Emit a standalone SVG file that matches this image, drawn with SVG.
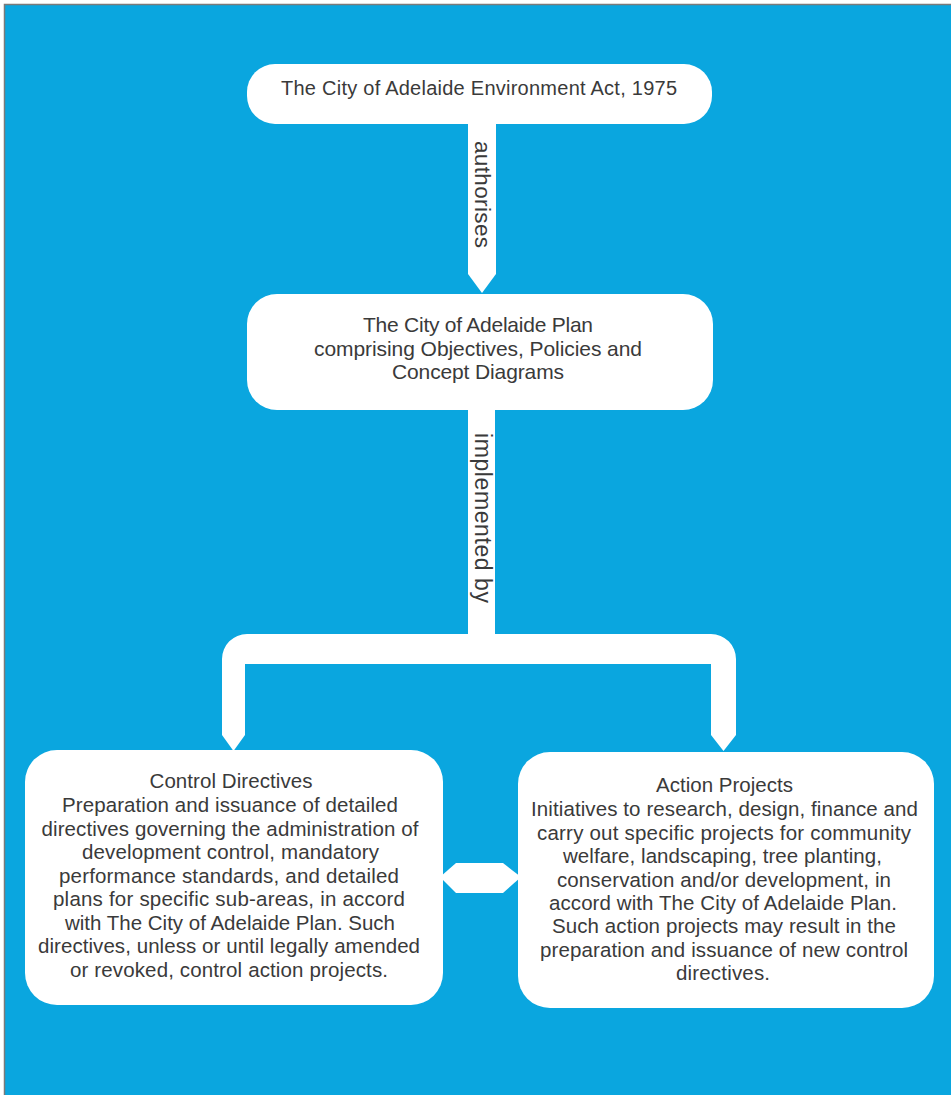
<svg xmlns="http://www.w3.org/2000/svg" width="951" height="1095" viewBox="0 0 951 1095">
  <style>
    .box { fill: #ffffff; }
    .conn { fill: #ffffff; }
    .t { font-family: "Liberation Sans", Arial, sans-serif; fill: #3a3a3a; text-anchor: middle; }
    .b { font-size: 20.5px; }
    .lbl { font-family: "Liberation Sans", Arial, sans-serif; fill: #3a3a3a; }
  </style>
  <rect x="0" y="0" width="951" height="1095" fill="#ffffff"/>
  <rect x="5" y="5" width="946" height="1090" fill="#0aa6df"/>
  <path d="M4.5 1095 L4.5 4.5 L951 4.5" fill="none" stroke="#7a7a7a" stroke-width="1.5"/>

  <g id="connectors">
    <polygon class="conn" points="468,120 496,120 496,274 482,293 468,274"/>
    <path class="conn" d="M468 405 L495 405 L495 634 L711 634 A25 25 0 0 1 736 659 L736 735 L723.5 751 L711 735 L711 664 L245 664 L245 735 L233.5 751 L222 735 L222 659 A25 25 0 0 1 247 634 L468 634 Z"/>
    <polygon class="conn" points="440,877 456,863 503,863 521,877 503,893 456,893"/>
    <text class="lbl" transform="translate(475,141) rotate(90)" font-size="22.5" textLength="107">authorises</text>
    <text class="lbl" transform="translate(475,433) rotate(90)" font-size="23" textLength="170">implemented by</text>
  </g>

  <g id="node-act">
    <rect class="box" x="247" y="64" width="465" height="60" rx="28"/>
    <text class="t" x="479" y="95" font-size="20" textLength="396">The City of Adelaide Environment Act, 1975</text>
  </g>

  <g id="node-plan">
    <rect class="box" x="247" y="294" width="466" height="116" rx="30"/>
    <text class="t" x="478" y="332" font-size="21" textLength="230">The City of Adelaide Plan</text>
    <text class="t" x="478" y="355.5" font-size="21" textLength="328">comprising Objectives, Policies and</text>
    <text class="t" x="478" y="379" font-size="21" textLength="172">Concept Diagrams</text>
  </g>

  <g id="node-control">
    <rect class="box" x="25" y="750" width="418" height="255" rx="32"/>
    <text class="t b" x="231" y="788" textLength="163">Control Directives</text>
    <text class="t b" x="230" y="812" textLength="336">Preparation and issuance of detailed</text>
    <text class="t b" x="230" y="835.5" textLength="377">directives governing the administration of</text>
    <text class="t b" x="230.5" y="859" textLength="297">development control, mandatory</text>
    <text class="t b" x="229" y="882.5" textLength="340">performance standards, and detailed</text>
    <text class="t b" x="229" y="906" textLength="352">plans for specific sub-areas, in accord</text>
    <text class="t b" x="230" y="929.5" textLength="330">with The City of Adelaide Plan. Such</text>
    <text class="t b" x="229" y="953" textLength="382">directives, unless or until legally amended</text>
    <text class="t b" x="229" y="976.5" textLength="318">or revoked, control action projects.</text>
  </g>

  <g id="node-action">
    <rect class="box" x="518" y="752" width="416" height="256" rx="32"/>
    <text class="t b" x="724.5" y="792" textLength="137">Action Projects</text>
    <text class="t b" x="724.5" y="816" textLength="387">Initiatives to research, design, finance and</text>
    <text class="t b" x="724" y="839.5" textLength="374">carry out specific projects for community</text>
    <text class="t b" x="722.5" y="863" textLength="319">welfare, landscaping, tree planting,</text>
    <text class="t b" x="724" y="886.5" textLength="334">conservation and/or development, in</text>
    <text class="t b" x="723" y="910" textLength="348">accord with The City of Adelaide Plan.</text>
    <text class="t b" x="724" y="933" textLength="344">Such action projects may result in the</text>
    <text class="t b" x="724" y="956.5" textLength="368">preparation and issuance of new control</text>
    <text class="t b" x="723" y="980" textLength="94">directives.</text>
  </g>
</svg>
